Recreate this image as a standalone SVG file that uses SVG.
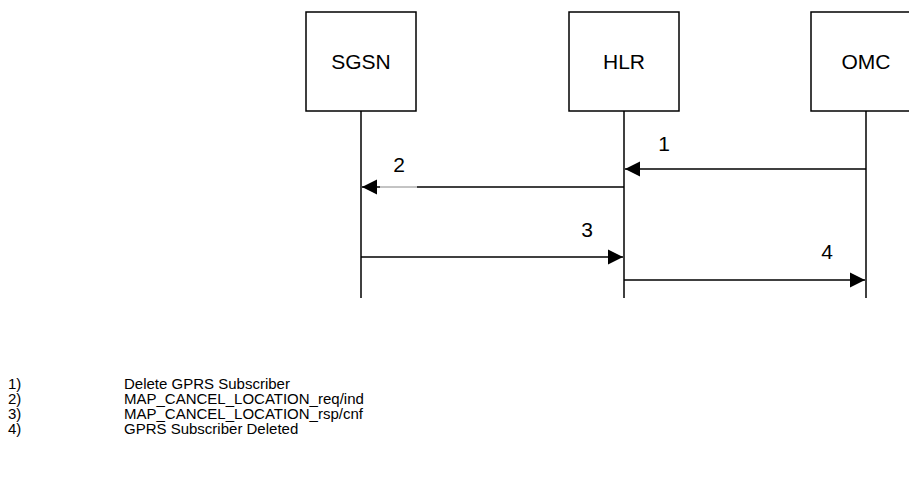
<svg xmlns="http://www.w3.org/2000/svg" width="909" height="484" viewBox="0 0 909 484">
<style>
.box{fill:#fff;stroke:#000;stroke-width:1.5}
.life{stroke:#000;stroke-width:1.5;fill:none}
.msg{stroke:#000;stroke-width:1.5;fill:none}
.lbl{font-family:"Liberation Sans",Arial,sans-serif;font-size:21px;fill:#000}
.leg{font-family:"Liberation Sans",Arial,sans-serif;font-size:15px;fill:#000}
</style>
<defs>
<marker id="ah" markerUnits="userSpaceOnUse" markerWidth="16" markerHeight="16" viewBox="0 0 16 16" refX="15" refY="8" orient="auto">
<path d="M0,0.5 L15,8 L0,15.5 Z" fill="#000"/>
</marker>
</defs>
<rect width="909" height="484" fill="#fff"/>
<g id="SGSN">
<rect class="box" x="306" y="12" width="110" height="99"/>
<text class="lbl" x="361" y="69" text-anchor="middle">SGSN</text>
<line class="life" x1="361" y1="111" x2="361" y2="298"/>
</g>
<g id="HLR">
<rect class="box" x="569" y="12" width="110" height="99"/>
<text class="lbl" x="624" y="69" text-anchor="middle">HLR</text>
<line class="life" x1="624" y1="111" x2="624" y2="298"/>
</g>
<g id="OMC">
<rect class="box" x="811" y="12" width="110" height="99"/>
<text class="lbl" x="866" y="69" text-anchor="middle">OMC</text>
<line class="life" x1="866" y1="111" x2="866" y2="298"/>
</g>
<g id="connectors">
<line class="msg" x1="866" y1="169" x2="625" y2="169" marker-end="url(#ah)"/>
<text class="lbl" x="664" y="151" text-anchor="middle">1</text>
<line class="msg" x1="624" y1="187" x2="417" y2="187"/>
<line stroke="#888" stroke-width="1" x1="417" y1="187" x2="380" y2="187"/>
<line class="msg" x1="380" y1="187" x2="362" y2="187" marker-end="url(#ah)"/>
<text class="lbl" x="399" y="172" text-anchor="middle">2</text>
<line class="msg" x1="361" y1="257" x2="623" y2="257" marker-end="url(#ah)"/>
<text class="lbl" x="587" y="237" text-anchor="middle">3</text>
<line class="msg" x1="624" y1="280" x2="865" y2="280" marker-end="url(#ah)"/>
<text class="lbl" x="827" y="259" text-anchor="middle">4</text>
</g>
<g id="legend">
<text class="leg" x="8" y="389">1)</text>
<text class="leg" x="124" y="389">Delete GPRS Subscriber</text>
<text class="leg" x="8" y="404">2)</text>
<text class="leg" x="124" y="404">MAP_CANCEL_LOCATION_req/ind</text>
<text class="leg" x="8" y="419">3)</text>
<text class="leg" x="124" y="419">MAP_CANCEL_LOCATION_rsp/cnf</text>
<text class="leg" x="8" y="434">4)</text>
<text class="leg" x="124" y="434">GPRS Subscriber Deleted</text>
</g>
</svg>
